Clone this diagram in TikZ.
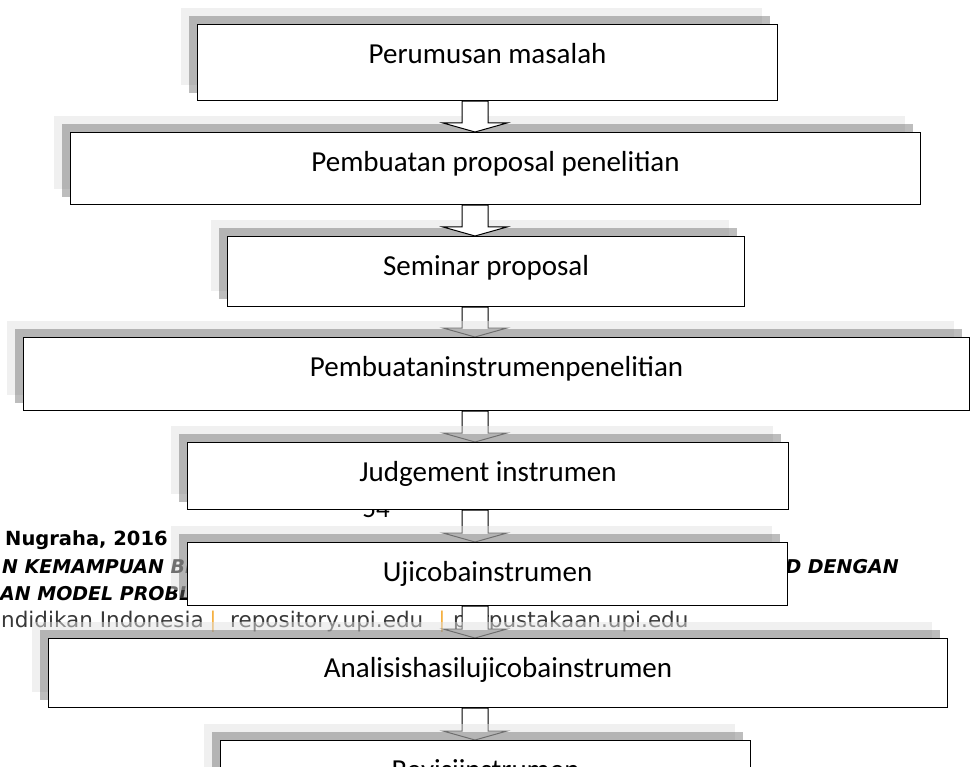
\documentclass[tikz,border=0pt]{standalone}
\usepackage{fontspec}
\setmainfont{Carlito}
\newfontfamily\footfont{DejaVu Sans}
\usetikzlibrary{calc}
\pgfdeclarelayer{footerlayer}
\pgfdeclarelayer{lowarrowlayer}
\pgfdeclarelayer{shadowlayer}
\pgfsetlayers{footerlayer,lowarrowlayer,shadowlayer,main}
\definecolor{shlight}{gray}{0.882}
\definecolor{shmid}{gray}{0.427}
\definecolor{footgray}{gray}{0.22}
\definecolor{sepcol}{RGB}{245,176,65}
\tikzset{
  stepbox/.style={draw=black, line width=1.1pt, fill=white, rectangle,
    inner xsep=0pt, inner ysep=0pt, text height=38.5pt, anchor=north west,
    font=\fontsize{29}{34}\selectfont},
  blockarrow/.style={draw=black, line width=1pt, fill=white, line join=miter},
  shadowlight/.style={fill=shlight, fill opacity=0.5},
  shadowmid/.style={fill=shmid, fill opacity=0.45},
  footbold/.style={anchor=base west, inner sep=0pt, text=black,
    font=\footfont\fontsize{19.5}{22}\selectfont\bfseries},
  footbi/.style={anchor=base west, inner sep=0pt, text=black,
    font=\footfont\fontsize{19}{22}\selectfont\bfseries\itshape},
  footreg/.style={anchor=base west, inner sep=0pt, text=footgray,
    font=\footfont\fontsize{21.5}{24}\selectfont},
  pagenum/.style={anchor=base, inner sep=0pt, font=\fontsize{27}{30}\selectfont}
}
\newcommand\boxshadow[1]{%
  \fill[shadowlight] ($(#1.north west)+(-16,-16)$) rectangle ($(#1.south east)+(-16,-16)$);
  \fill[shadowmid] ($(#1.north west)+(-8,-8)$) rectangle ($(#1.south east)+(-8,-8)$);}
\newcommand\flowarrow[2]{%
  \draw[blockarrow] let \p1=(#1.south), \p2=(#2.north) in
    (462pt,\y1) -- (462pt,\y2+9pt) -- (443pt,\y2+9pt) -- (475pt,\y2)
    -- (507pt,\y2+9pt) -- (488pt,\y2+9pt) -- (488pt,\y1) -- cycle;}
\begin{document}
\begin{tikzpicture}[x=1pt,y=-1pt]
\useasboundingbox (0,0) rectangle (971,767);
% boxes
\node[stepbox, minimum width=580pt, text depth=37.5pt] (b1) at (197,24) {Perumusan masalah};
\node[stepbox, minimum width=850pt, text depth=33.5pt] (b2) at (70,132) {Pembuatan proposal penelitian};
\node[stepbox, minimum width=517pt, text depth=31.5pt] (b3) at (227,236) {Seminar proposal};
\node[stepbox, minimum width=946pt, text depth=34.5pt] (b4) at (23,337) {Pembuataninstrumenpenelitian};
\node[stepbox, minimum width=601pt, text depth=28.5pt] (b5) at (187,442) {Judgement instrumen};
\node[stepbox, minimum width=600pt, text depth=24.5pt] (b6) at (187,542) {Ujicobainstrumen};
\node[stepbox, minimum width=899pt, text depth=30.5pt] (b7) at (48,638) {Analisishasilujicobainstrumen};
\node[stepbox, minimum width=530pt, text depth=31.5pt] (b8) at (220,740) {Revisiinstrumen};
% arrows above shadows
\flowarrow{b1}{b2}
\flowarrow{b2}{b3}
% shadows
\begin{pgfonlayer}{shadowlayer}
\boxshadow{b1}\boxshadow{b2}\boxshadow{b3}\boxshadow{b4}
\boxshadow{b5}\boxshadow{b6}\boxshadow{b7}\boxshadow{b8}
\end{pgfonlayer}
% arrows below shadows
\begin{pgfonlayer}{lowarrowlayer}
\flowarrow{b3}{b4}
\flowarrow{b4}{b5}
\flowarrow{b5}{b6}
\flowarrow{b6}{b7}
\flowarrow{b7}{b8}
\end{pgfonlayer}
% page footer text behind everything
\begin{pgfonlayer}{footerlayer}
\node[pagenum] (pg) at (376,517) {54};
\node[footbold] (f1) at (5,545) {Nugraha, 2016};
\node[footbi] (f2) at (2,573) {N KEMAMPUAN BE};
\node[footbi, anchor=base east] (f2r) at (899,573) {D DENGAN};
\node[footbi] (f3) at (0,600) {AN MODEL PROBL};
\node[footreg] (f4a) at (1,627) {ndidikan Indonesia};
\node[footreg, text=sepcol, anchor=base] (f4b) at (213,627) {|};
\node[footreg] (f4c) at (230,627) {repository.upi.edu};
\node[footreg, text=sepcol, anchor=base] (f4d) at (442,627) {|};
\node[footreg] (f4e) at (453,627) {perpustakaan.upi.edu};
\end{pgfonlayer}
\end{tikzpicture}
\end{document}
